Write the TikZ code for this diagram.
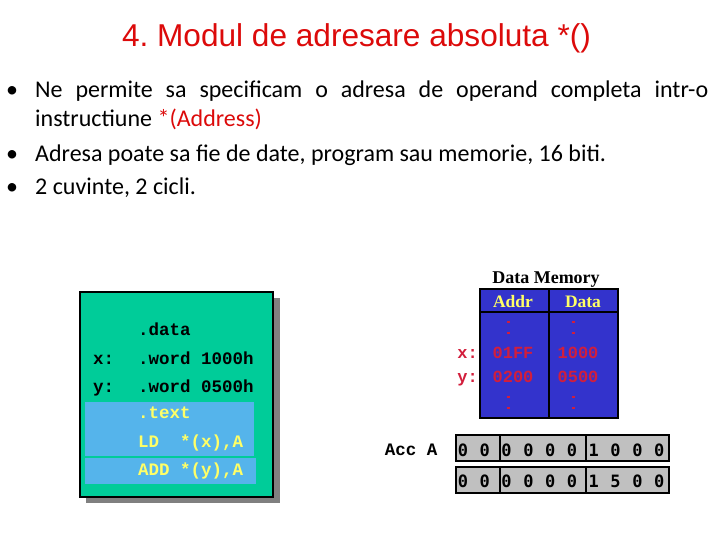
\documentclass[tikz,border=0pt]{standalone}
\usepackage{fontspec}
\setmainfont{Carlito}
\newfontfamily\titlefont{Liberation Sans}
\newfontfamily\codefont{Liberation Mono}
\newfontfamily\memfont{Liberation Serif}
\newfontfamily\regfont{DejaVu Sans Mono}

\definecolor{titlered}{RGB}{220,10,10}
\definecolor{codegreen}{RGB}{0,204,153}
\definecolor{hiblue}{RGB}{85,180,235}
\definecolor{hiyellow}{RGB}{255,255,102}
\definecolor{memblue}{RGB}{51,51,204}
\definecolor{memred}{RGB}{210,30,60}
\definecolor{reggray}{RGB}{192,192,192}

\begin{document}
\begin{tikzpicture}[
    x=1pt, y=-1pt,
    bullettext/.style={
        anchor=base west,
        inner sep=0pt,
        text width=673pt,
        align=justify,
        font=\fontsize{24}{29}\selectfont
    },
    bulletmark/.style={
        anchor=base,
        inner sep=0pt,
        font=\fontsize{24}{29}\selectfont
    },
    codeline/.style={
        anchor=base west,
        inner sep=0pt,
        font=\codefont\bfseries\fontsize{17.5}{20}\selectfont
    },
    memhead/.style={
        anchor=base,
        inner sep=0pt,
        text=hiyellow,
        font=\memfont\bfseries\fontsize{17.5}{20}\selectfont
    },
    memcell/.style={
        anchor=base,
        inner sep=0pt,
        text=memred,
        font=\codefont\bfseries\fontsize{17}{18}\selectfont
    },
    memdot/.style={fill=memred},
    regdigit/.style={
        anchor=base,
        inner sep=0pt,
        font=\regfont\bfseries\fontsize{17}{20}\selectfont
    }
]

\useasboundingbox (0,0) rectangle (720,540);

% Title
\node[text=titlered, inner sep=0pt, anchor=base,
      font=\titlefont\fontsize{31.6}{36}\selectfont] (title) at (356.5,47)
    {4.\ Modul de adresare absoluta *()};

% Bullets
\node[bulletmark] (b1) at (12,98) {•};
\node[bullettext] (t1) at (35,98) {\hyphenpenalty=10000
    Ne permite sa specificam o adresa de operand completa intr-o\linebreak
    instructiune \textcolor{titlered}{*(Address)}};
\node[bulletmark] (b2) at (12,162) {•};
\node[bullettext] (t2) at (35,162) {Adresa poate sa fie de date, program sau memorie, 16 biti.};
\node[bulletmark] (b3) at (12,195) {•};
\node[bullettext] (t3) at (35,195) {2 cuvinte, 2 cicli.};

% Program box
\fill[gray] (86,298) rectangle (280,503);
\draw[line width=2pt, fill=codegreen] (80,292) rectangle (273,497);
\fill[hiblue] (85,402) rectangle (254,456);
\fill[hiblue] (85,458) rectangle (256,484);

\node[codeline] (data) at (138,335) {.data};
\node[codeline] (xlab) at (93,364) {x:};
\node[codeline] (xword) at (138,364) {.word 1000h};
\node[codeline] (ylab) at (93,392) {y:};
\node[codeline] (yword) at (138,392) {.word 0500h};
\node[codeline, text=hiyellow] (text) at (138,418) {.text};
\node[codeline, text=hiyellow] (ld) at (138,447) {LD~~*(x),A};
\node[codeline, text=hiyellow] (add) at (138,475) {ADD *(y),A};

% Data memory
\node[anchor=base, inner sep=0pt, font=\memfont\bfseries\fontsize{18}{20}\selectfont]
    (memtitle) at (546,283) {Data Memory};
\draw[line width=2pt, fill=memblue] (480,289) rectangle (618,418);
\draw[line width=1.5pt] (480,312) -- (618,312);
\draw[line width=1.5pt] (549,289) -- (549,418);

\node[memhead] (addr) at (513,307) {Addr};
\node[memhead] (datah) at (583,307) {Data};

% vertical dots
\foreach \dy in {322,333,397,408} {
    \fill[memdot] (507,\dy-1.3) rectangle +(2.8,2.6);
    \fill[memdot] (572,\dy-1.3) rectangle +(2.8,2.6);
}
\node[memcell, anchor=base east] (mx) at (478,358) {x:};
\node[memcell] (ax) at (513,358) {01FF};
\node[memcell] (dx) at (578,358) {1000};
\node[memcell, anchor=base east] (my) at (478,382) {y:};
\node[memcell] (ay) at (513,382) {0200};
\node[memcell] (dy) at (578,382) {0500};

% Accumulator
\node[codeline, anchor=base] (acc) at (411,455) {Acc A};
\foreach \ry in {435,467} {
    \draw[line width=2pt, fill=reggray] (456,\ry) rectangle (669,\ry+26);
    \draw[line width=2pt] (500,\ry) -- (500,\ry+26);
    \draw[line width=2pt] (586,\ry) -- (586,\ry+26);
}
\foreach \d [count=\i from 0] in {0,0,0,0,0,0,1,0,0,0}
    \node[regdigit] (ra\i) at (463+21.8*\i,456) {\d};
\foreach \d [count=\i from 0] in {0,0,0,0,0,0,1,5,0,0}
    \node[regdigit] (rb\i) at (463+21.8*\i,487) {\d};

\end{tikzpicture}
\end{document}
